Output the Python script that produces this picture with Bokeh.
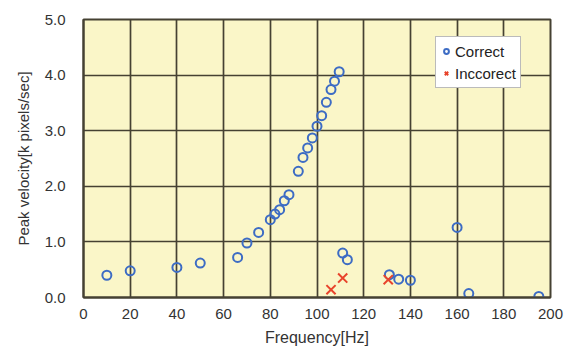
from bokeh.plotting import figure
from bokeh.models import Range1d, FixedTicker, PrintfTickFormatter, Legend, LegendItem
from bokeh.embed import file_html
from bokeh.resources import INLINE

# Data
correct_freq = [10, 20, 40, 50, 66, 70, 75, 80, 82, 84, 86, 88, 92, 94, 96, 98, 100, 102,
                104, 106, 107.5, 109.5, 111, 113, 131, 135, 140, 160, 165, 195]
correct_vel = [0.40, 0.48, 0.54, 0.62, 0.72, 0.98, 1.17, 1.40, 1.50, 1.58, 1.74, 1.85, 2.27,
               2.52, 2.69, 2.87, 3.08, 3.27, 3.51, 3.74, 3.89, 4.06, 0.80, 0.68, 0.41, 0.33,
               0.31, 1.26, 0.07, 0.02]
incorrect_freq = [106, 111, 130.5]
incorrect_vel = [0.14, 0.35, 0.32]

x_ticks = [0, 20, 40, 60, 80, 100, 120, 140, 160, 180, 200]
y_ticks = [0, 1, 2, 3, 4, 5]

FONT = "Liberation Sans"
TXT = "#333333"
GRID = "#454132"

p = figure(width=564, height=349, output_backend="svg", toolbar_location=None,
           x_range=Range1d(0, 200), y_range=Range1d(0, 5),
           min_border_left=83, min_border_right=14, min_border_top=19, min_border_bottom=52)
p.background_fill_color = "#FAF6C8"
p.border_fill_color = "white"
p.outline_line_color = GRID
p.outline_line_width = 2

p.xgrid.grid_line_color = GRID
p.ygrid.grid_line_color = GRID
p.xgrid.grid_line_width = 1.7
p.ygrid.grid_line_width = 1.7
p.xgrid.ticker = FixedTicker(ticks=x_ticks)
p.ygrid.ticker = FixedTicker(ticks=y_ticks)

p.xaxis.ticker = FixedTicker(ticks=x_ticks)
p.yaxis.ticker = FixedTicker(ticks=y_ticks)
p.yaxis.formatter = PrintfTickFormatter(format="%.1f")
for ax in (p.xaxis[0], p.yaxis[0]):
    ax.axis_line_color = GRID
    ax.axis_line_width = 2
    ax.major_tick_out = 0
    ax.major_tick_in = 0
    ax.minor_tick_out = 0
    ax.minor_tick_in = 0
    ax.major_label_text_font = FONT
    ax.major_label_text_font_size = "15px"
    ax.major_label_text_color = TXT
    ax.axis_label_text_font = FONT
    ax.axis_label_text_font_size = "15px"
    ax.axis_label_text_font_style = "normal"
    ax.axis_label_text_color = TXT
p.xaxis.axis_label = "Frequency[Hz]"
p.yaxis.axis_label = "Peak velocity[k pixels/sec]"
p.xaxis.axis_label_text_font_size = "16px"
p.xaxis.major_label_standoff = 11
p.yaxis.major_label_standoff = 18
p.xaxis.axis_label_standoff = 7
p.yaxis.axis_label_standoff = 10

r1 = p.scatter(correct_freq, correct_vel, marker="circle", size=9, fill_color=None,
               line_color="#3D6CC4", line_width=2)
r2 = p.scatter(incorrect_freq, incorrect_vel, marker="x", size=13,
               line_color="#E8442C", line_width=2)

legend = Legend(items=[LegendItem(label="Correct", renderers=[r1]),
                       LegendItem(label="Inccorect", renderers=[r2])],
                location=(352, 209))
legend.label_text_font = FONT
legend.label_text_font_size = "15px"
legend.label_text_color = "#222222"
legend.glyph_width = 12
legend.glyph_height = 20
legend.label_height = 20
legend.label_standoff = 3
legend.spacing = 2
legend.padding = 4
legend.margin = 0
legend.border_line_color = "#777777"
legend.border_line_width = 1
legend.background_fill_color = "white"
legend.background_fill_alpha = 1
p.add_layout(legend)

open("out.html", "w").write(file_html(p, INLINE))
